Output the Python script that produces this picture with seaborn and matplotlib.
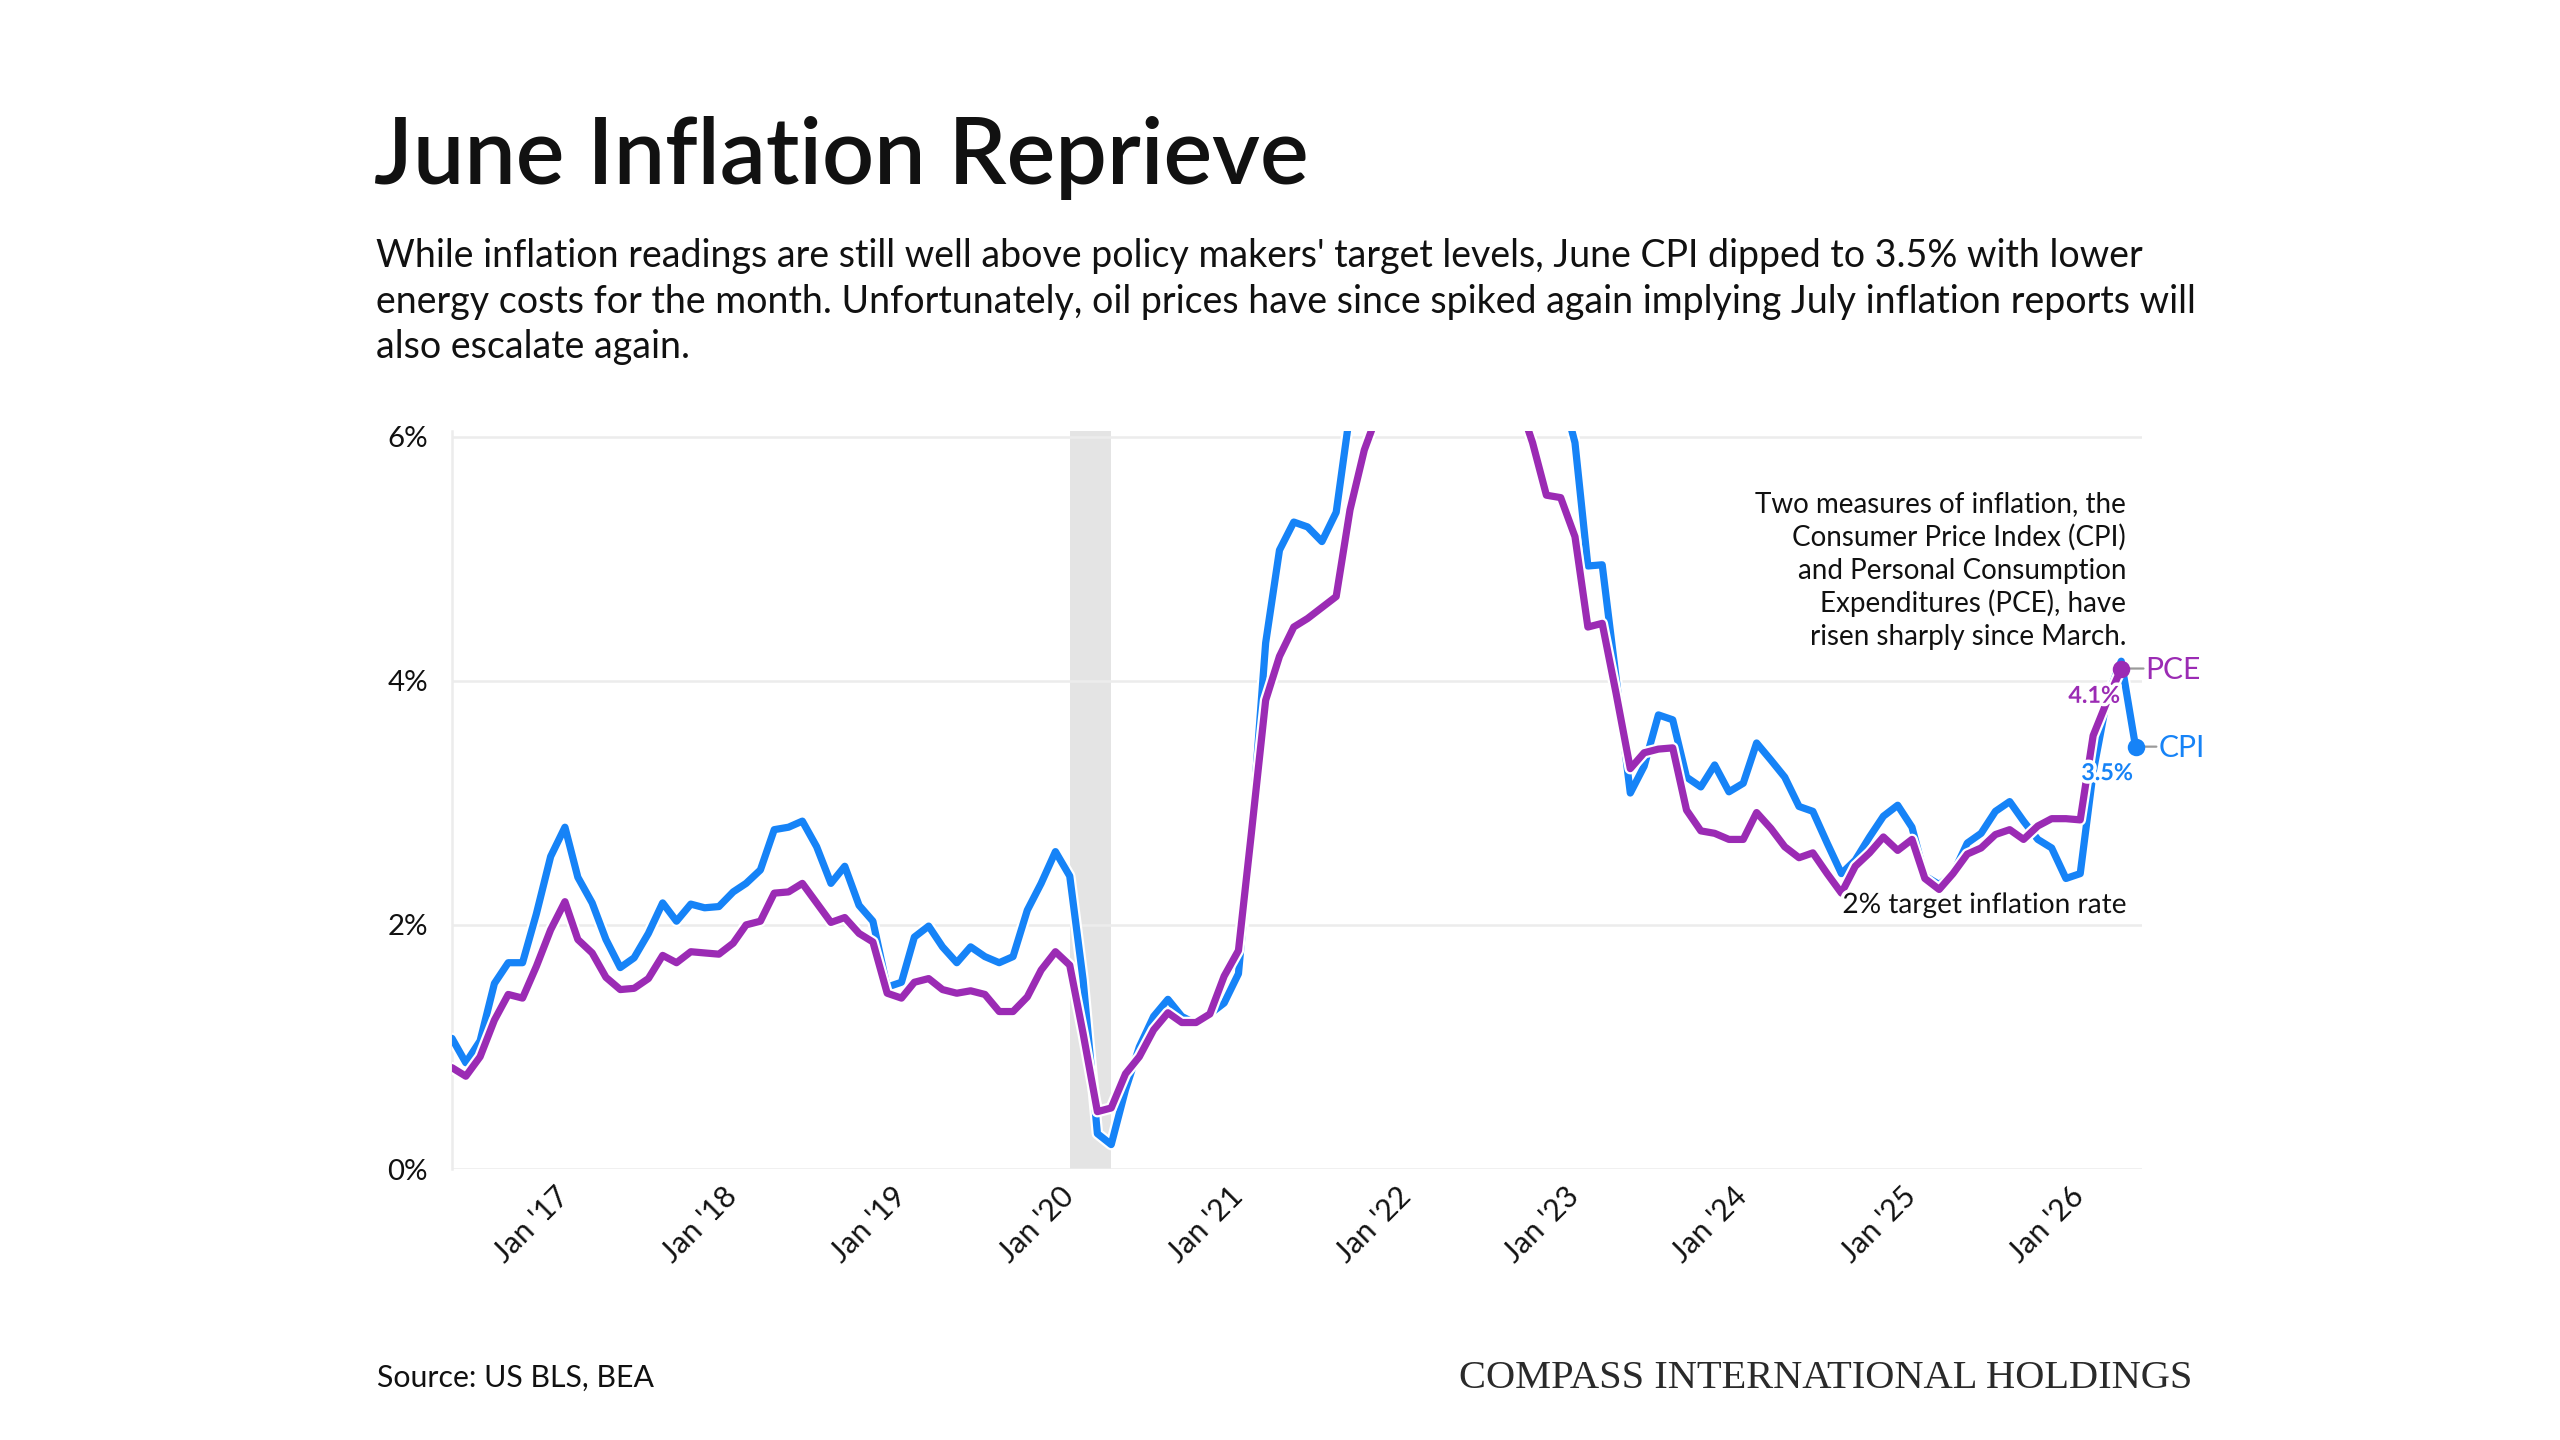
import numpy as np
import pandas as pd
import matplotlib
matplotlib.use("Agg")
import matplotlib.pyplot as plt
import matplotlib.patheffects as pe
from matplotlib.transforms import ScaledTranslation
import seaborn as sns

# ---------------- data ----------------
cpi_start = "2016-06-01"
cpi_values = [
    1.07, 0.87, 1.05, 1.52, 1.69, 1.69, 2.09,                                   # 2016 Jun-Dec
    2.56, 2.80, 2.39, 2.18, 1.88, 1.65, 1.73, 1.93, 2.18, 2.03, 2.17, 2.14,     # 2017
    2.15, 2.27, 2.34, 2.45, 2.78, 2.80, 2.85, 2.64, 2.34, 2.48, 2.16, 2.03,     # 2018
    1.49, 1.53, 1.90, 1.99, 1.82, 1.69, 1.82, 1.74, 1.69, 1.74, 2.12, 2.34,     # 2019
    2.60, 2.40, 1.55, 0.29, 0.20, 0.65, 1.00, 1.25, 1.39, 1.25, 1.19, 1.27,     # 2020
    1.36, 1.60, 2.75, 4.31, 5.07, 5.30, 5.26, 5.14, 5.38, 6.20, 6.80, 7.00,     # 2021
    7.50, 7.90, 8.50, 8.30, 8.60, 9.10, 8.50, 8.30, 8.20, 7.70, 7.10, 6.50,     # 2022
    6.40, 5.95, 4.94, 4.95, 4.03, 3.08, 3.30, 3.72, 3.68, 3.21, 3.13, 3.31,     # 2023
    3.09, 3.16, 3.49, 3.35, 3.21, 2.97, 2.93, 2.67, 2.42, 2.53, 2.72, 2.89,     # 2024
    2.98, 2.80, 2.40, 2.33, 2.42, 2.67, 2.75, 2.93, 3.01, 2.85, 2.70, 2.63,     # 2025
    2.38, 2.42, 3.25, 3.87, 4.16, 3.46,                                         # 2026 Jan-Jun
]
pce_start = "2016-06-01"
pce_values = [
    0.83, 0.76, 0.92, 1.22, 1.43, 1.40, 1.66,                                   # 2016 Jun-Dec
    1.96, 2.19, 1.88, 1.77, 1.57, 1.47, 1.48, 1.56, 1.75, 1.69, 1.78, 1.77,     # 2017
    1.76, 1.85, 2.00, 2.03, 2.26, 2.27, 2.34, 2.18, 2.02, 2.06, 1.93, 1.86,     # 2018
    1.44, 1.40, 1.53, 1.56, 1.47, 1.44, 1.46, 1.43, 1.29, 1.29, 1.41, 1.63,     # 2019
    1.78, 1.67, 1.11, 0.47, 0.50, 0.78, 0.92, 1.14, 1.28, 1.20, 1.20, 1.27,     # 2020
    1.58, 1.79, 2.75, 3.84, 4.20, 4.44, 4.51, 4.60, 4.69, 5.40, 5.89, 6.20,     # 2021
    6.30, 6.60, 6.90, 6.50, 6.50, 7.00, 6.60, 6.50, 6.40, 6.30, 5.95, 5.52,     # 2022
    5.50, 5.18, 4.44, 4.47, 3.90, 3.28, 3.41, 3.44, 3.45, 2.94, 2.77, 2.75,     # 2023
    2.70, 2.70, 2.92, 2.79, 2.64, 2.55, 2.59, 2.42, 2.26, 2.48, 2.59, 2.72,     # 2024
    2.61, 2.70, 2.38, 2.29, 2.42, 2.58, 2.63, 2.74, 2.78, 2.70, 2.81, 2.87,     # 2025
    2.87, 2.86, 3.55, 3.84, 4.10,                                               # 2026 Jan-May
]
recession_start = "2020-02-01"
recession_end = "2020-05-01"
y_ticks = [0, 2, 4, 6]
y_tick_labels = ["0%", "2%", "4%", "6%"]
x_tick_years = list(range(2017, 2027))
x_tick_labels = [f"Jan '{y % 100:02d}" for y in x_tick_years]

title = "June Inflation Reprieve"
subtitle_lines = [
    "While inflation readings are still well above policy makers' target levels, June CPI dipped to 3.5% with lower",
    "energy costs for the month. Unfortunately, oil prices have since spiked again implying July inflation reports will",
    "also escalate again.",
]
note_lines = [
    "Two measures of inflation, the",
    "Consumer Price Index (CPI)",
    "and Personal Consumption",
    "Expenditures (PCE), have",
    "risen sharply since March.",
]
target_label = "2% target inflation rate"
source_text = "Source: US BLS, BEA"
brand_text = "COMPASS INTERNATIONAL HOLDINGS"

# ---------------- styling ----------------
CPI_COLOR = "#1683F7"
PCE_COLOR = "#9B2BB4"
GRID = "#ECECEC"
TEXT = "#111111"

sns.set_theme(style="white")
plt.rcParams["font.family"] = ["Lato", "DejaVu Sans"]

W, H = 2560, 1440
fig = plt.figure(figsize=(W / 200, H / 200), dpi=200)
fig.patch.set_facecolor("white")


def fx(x):
    return x / W


def fy(y):
    return 1 - y / H


ax_left, ax_right, ax_top, ax_bottom = 452, 2142, 430.5, 1169
ax = fig.add_axes([fx(ax_left), fy(ax_bottom), fx(ax_right - ax_left), (ax_bottom - ax_top) / H])

cpi = pd.DataFrame({"date": pd.date_range(cpi_start, periods=len(cpi_values), freq="MS"),
                    "value": cpi_values})
pce = pd.DataFrame({"date": pd.date_range(pce_start, periods=len(pce_values), freq="MS"),
                    "value": pce_values})

ax.axvspan(pd.Timestamp(recession_start), pd.Timestamp(recession_end), color="#E4E4E4", lw=0, zorder=0)

for yv in y_ticks:
    ax.axhline(yv, color=GRID, lw=0.9, zorder=0.5)

lw = 2.6
for df, color, z in [(cpi, CPI_COLOR, 3), (pce, PCE_COLOR, 4)]:
    sns.lineplot(data=df, x="date", y="value", color=color, lw=lw, ax=ax, zorder=z,
                 solid_joinstyle="round", solid_capstyle="round",
                 path_effects=[pe.Stroke(linewidth=lw + 1.6, foreground="white"), pe.Normal()])

ax.set_ylim(0, 6.05)
ax.set_xlim(pd.Timestamp("2016-06-01"), pd.Timestamp("2026-06-15"))

ax.set_yticks(y_ticks)
ax.set_yticklabels(y_tick_labels)
ax.set_xticks([pd.Timestamp(f"{y}-01-01") for y in x_tick_years])
ax.set_xticklabels(x_tick_labels, rotation=45, ha="right", va="center", rotation_mode="anchor")
ax.set_xlabel("")
ax.set_ylabel("")

ax.tick_params(axis="y", length=4.7, width=0.9, color=GRID, pad=4.0, labelsize=10.6, labelcolor=TEXT)
ax.tick_params(axis="x", length=4.7, width=0.9, color=GRID, pad=3.5, labelsize=10.8, labelcolor=TEXT)
shift = ScaledTranslation(5.0 / 72, 0, fig.dpi_scale_trans)
for lbl in ax.get_xticklabels():
    lbl.set_transform(lbl.get_transform() + shift)

for s in ["top", "right", "bottom"]:
    ax.spines[s].set_visible(False)
ax.spines["left"].set_color(GRID)
ax.spines["left"].set_linewidth(0.9)
ax.spines["left"].set_bounds(0, 6.05)
ax.grid(False)

# end markers and labels
halo = [pe.withStroke(linewidth=2.5, foreground="white")]
pce_last = pce.iloc[-1]
cpi_last = cpi.iloc[-1]
ax.scatter([pce_last["date"]], [pce_last["value"]], s=28, color=PCE_COLOR, zorder=6, clip_on=False)
ax.scatter([cpi_last["date"]], [cpi_last["value"]], s=28, color=CPI_COLOR, zorder=6, clip_on=False)

for row, name, color, dx in [(pce_last, "PCE", PCE_COLOR, 8.8), (cpi_last, "CPI", CPI_COLOR, 8.3)]:
    ax.annotate("", xy=(row["date"], row["value"]), xytext=(dx - 0.8, 0), textcoords="offset points",
                arrowprops=dict(arrowstyle="-", color="#9A9A9A", lw=0.8, shrinkA=0, shrinkB=3.2),
                annotation_clip=False)
    ax.annotate(name, xy=(row["date"], row["value"]), xytext=(dx, -0.5), textcoords="offset points",
                ha="left", va="center", fontsize=10.8, color=color, annotation_clip=False)

ax.annotate(f"{pce_last['value']:.1f}%", xy=(pce_last["date"], pce_last["value"]), xytext=(-0.5, -10),
            textcoords="offset points", ha="right", va="center", fontsize=8.4, color=PCE_COLOR,
            fontweight="bold", path_effects=halo, zorder=7, annotation_clip=False)
ax.annotate(f"{cpi_last['value']:.1f}%", xy=(cpi_last["date"], cpi_last["value"]), xytext=(-1.0, -9.7),
            textcoords="offset points", ha="right", va="center", fontsize=8.4, color=CPI_COLOR,
            fontweight="bold", path_effects=halo, zorder=7, annotation_clip=False)

# ---------------- text ----------------
fig.text(fx(374), fy(184), title, fontsize=33, fontweight="semibold", color=TEXT, va="baseline", ha="left")
for i, line in enumerate(subtitle_lines):
    fig.text(fx(376), fy(267 + 45.5 * i), line, fontsize=13.5, color=TEXT, va="baseline", ha="left")

for i, line in enumerate(note_lines):
    fig.text(fx(2126), fy(512 + 33.3 * i), line, fontsize=10.0, color=TEXT, va="baseline", ha="right")

fig.text(fx(2126), fy(913), target_label, fontsize=10.1, color=TEXT, va="baseline", ha="right",
         path_effects=halo)

fig.text(fx(377), fy(1378), source_text, fontsize=10.9, color=TEXT, va="center", ha="left")
fig.text(fx(2192), fy(1378), brand_text, fontsize=14.6, color="#2a2a2a", va="center", ha="right",
         family=["Liberation Serif", "DejaVu Serif"])

fig.savefig("out.png", dpi=200, facecolor="white")
